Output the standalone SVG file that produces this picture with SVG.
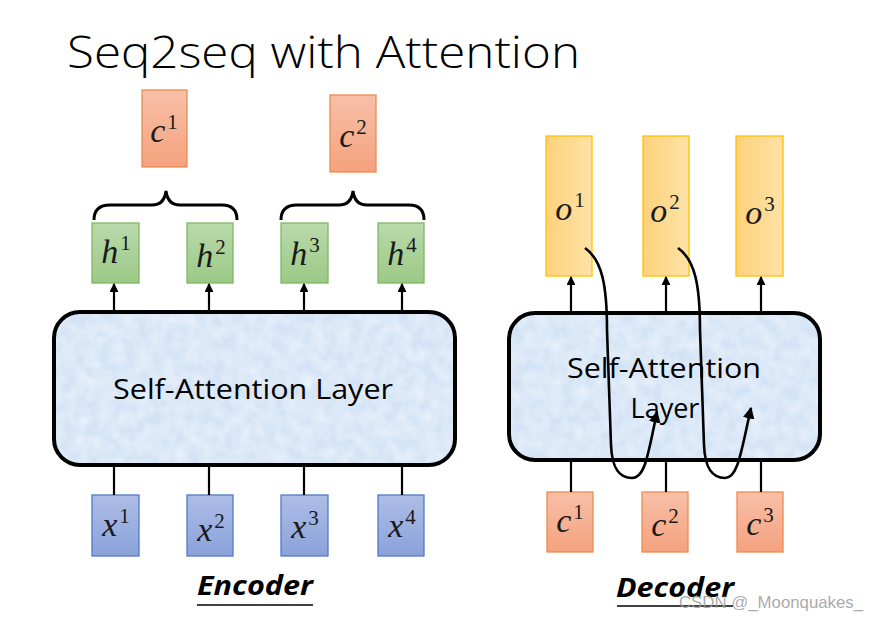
<svg xmlns="http://www.w3.org/2000/svg" width="880" height="620" viewBox="0 0 880 620">
<defs>
<linearGradient id="gOr" x1="0" y1="0" x2="0" y2="1"><stop offset="0" stop-color="#f8c0a8"/><stop offset="1" stop-color="#f4a27e"/></linearGradient>
<linearGradient id="gGr" x1="0" y1="0" x2="0" y2="1"><stop offset="0" stop-color="#b9daac"/><stop offset="1" stop-color="#9cc985"/></linearGradient>
<linearGradient id="gBl" x1="0" y1="0" x2="0" y2="1"><stop offset="0" stop-color="#aebde6"/><stop offset="1" stop-color="#8aa2da"/></linearGradient>
<linearGradient id="gYe" x1="0" y1="0" x2="1" y2="0"><stop offset="0" stop-color="#fdd27c"/><stop offset="1" stop-color="#fee2a6"/></linearGradient>
<filter id="tex" x="0" y="0" width="1" height="1">
<feTurbulence type="fractalNoise" baseFrequency="0.08" numOctaves="2" seed="3" result="n"/>
<feColorMatrix in="n" type="matrix" values="0 0 0 0 0.86  0 0 0 0 0.91  0 0 0 0 0.98  0 0 0 -1.2 0.9" result="c"/>
<feComposite in="c" in2="SourceGraphic" operator="in" result="t"/>
<feMerge><feMergeNode in="SourceGraphic"/><feMergeNode in="t"/></feMerge>
</filter>
<marker id="ah" viewBox="0 0 10 10" refX="9" refY="5" markerWidth="4" markerHeight="4" orient="auto"><path d="M0,0 L10,5 L0,10 z" fill="#000"/></marker>
<marker id="ah2" viewBox="0 0 10 10" refX="9" refY="5" markerWidth="4.5" markerHeight="4.5" orient="auto"><path d="M0,0 L10,5 L0,10 z" fill="#000"/></marker>
<style>
.or{fill:url(#gOr);stroke:#ed8a4e;stroke-width:1.3}
.gr{fill:url(#gGr);stroke:#7fb765;stroke-width:1.3}
.bl{fill:url(#gBl);stroke:#4f7acb;stroke-width:1.3}
.ye{fill:url(#gYe);stroke:#ffc000;stroke-width:1.3}
.bigf{fill:#d3e3f5;stroke:none}
.bigs{fill:none;stroke:#000;stroke-width:4}
.m{font-family:"Liberation Serif","DejaVu Serif",serif;font-size:34px;fill:#1a1a1a;text-anchor:middle}
.m .v{font-style:italic}
.m .s{font-size:21px}
.lay{font-family:"Open Sans","Noto Sans",sans-serif;font-size:27px;fill:#000;text-anchor:middle}
.lbl{font-family:"Open Sans","Liberation Sans",sans-serif;font-size:26px;font-weight:bold;font-style:italic;fill:#000;text-anchor:middle}
.ln{stroke:#000;stroke-width:2.2;fill:none}
.ar{stroke:#000;stroke-width:2.2;fill:none;marker-end:url(#ah)}
.cv{stroke:#000;stroke-width:2.6;fill:none;marker-end:url(#ah2)}
.br{stroke:#000;stroke-width:3;fill:none}
</style>
</defs>
<rect width="880" height="620" fill="#fff"/>
<text x="67" y="68" font-family="'Open Sans','Noto Sans',sans-serif" font-weight="300" font-size="44" textLength="513" lengthAdjust="spacingAndGlyphs" fill="#000">Seq2seq with Attention</text>

<g id="encoder">
<rect class="bigf" x="54" y="312" width="401" height="153" rx="26" filter="url(#tex)"/>
<rect class="bigs" x="54" y="312" width="401" height="153" rx="26"/>
<text class="lay" x="253" y="399" textLength="280" lengthAdjust="spacingAndGlyphs">Self-Attention Layer</text>
</g>
<g id="decoder">
<rect class="bigf" x="509" y="313" width="311" height="147" rx="26" filter="url(#tex)"/>
<rect class="bigs" x="509" y="313" width="311" height="147" rx="26"/>
<text class="lay" x="664" y="378" textLength="194" lengthAdjust="spacingAndGlyphs">Self-Attention</text>
<text class="lay" x="665" y="418">Layer</text>
</g>

<g id="c1top"><rect class="or" x="142" y="90" width="45" height="77"/><text class="m" x="164" y="142"><tspan class="v">c</tspan><tspan class="s" dx="2" dy="-13">1</tspan></text></g>
<g id="c2top"><rect class="or" x="330" y="95" width="46" height="77"/><text class="m" x="353" y="147"><tspan class="v">c</tspan><tspan class="s" dx="2" dy="-13">2</tspan></text></g>

<g id="braces">
<path class="br" d="M94,220 C94,211 98,205 110,205 L152,205 C161,205 165,199 166,191 C167,199 171,205 180,205 L222,205 C233,205 237,211 237,220"/>
<path class="br" d="M281,220 C281,211 285,205 297,205 L339,205 C348,205 352,199 353,191 C354,199 358,205 367,205 L409,205 C420,205 424,211 424,220"/>
</g>

<g id="h1"><rect class="gr" x="92" y="223" width="47" height="60"/><text class="m" x="116" y="263"><tspan class="v">h</tspan><tspan class="s" dx="2" dy="-13">1</tspan></text></g>
<g id="h2"><rect class="gr" x="187" y="223" width="46" height="60"/><text class="m" x="211" y="267"><tspan class="v">h</tspan><tspan class="s" dx="2" dy="-13">2</tspan></text></g>
<g id="h3"><rect class="gr" x="281" y="223" width="47" height="60"/><text class="m" x="305" y="265"><tspan class="v">h</tspan><tspan class="s" dx="2" dy="-13">3</tspan></text></g>
<g id="h4"><rect class="gr" x="378" y="223" width="46" height="60"/><text class="m" x="402" y="265"><tspan class="v">h</tspan><tspan class="s" dx="2" dy="-13">4</tspan></text></g>

<g id="x1"><rect class="bl" x="92" y="495" width="47" height="61"/><text class="m" x="116" y="536"><tspan class="v">x</tspan><tspan class="s" dx="2" dy="-13">1</tspan></text></g>
<g id="x2"><rect class="bl" x="187" y="495" width="46" height="61"/><text class="m" x="211" y="541"><tspan class="v">x</tspan><tspan class="s" dx="2" dy="-13">2</tspan></text></g>
<g id="x3"><rect class="bl" x="281" y="495" width="47" height="61"/><text class="m" x="305" y="538"><tspan class="v">x</tspan><tspan class="s" dx="2" dy="-13">3</tspan></text></g>
<g id="x4"><rect class="bl" x="378" y="495" width="46" height="61"/><text class="m" x="402" y="537"><tspan class="v">x</tspan><tspan class="s" dx="2" dy="-13">4</tspan></text></g>

<g id="o1"><rect class="ye" x="546" y="136" width="46" height="140"/><text class="m" x="570" y="220"><tspan class="v">o</tspan><tspan class="s" dx="2" dy="-13">1</tspan></text></g>
<g id="o2"><rect class="ye" x="643" y="136" width="46" height="140"/><text class="m" x="665" y="222"><tspan class="v">o</tspan><tspan class="s" dx="2" dy="-13">2</tspan></text></g>
<g id="o3"><rect class="ye" x="736" y="136" width="47" height="140"/><text class="m" x="760" y="224"><tspan class="v">o</tspan><tspan class="s" dx="2" dy="-13">3</tspan></text></g>

<g id="c1"><rect class="or" x="547" y="492" width="46" height="60"/><text class="m" x="570" y="532"><tspan class="v">c</tspan><tspan class="s" dx="2" dy="-13">1</tspan></text></g>
<g id="c2"><rect class="or" x="642" y="492" width="46" height="60"/><text class="m" x="665" y="536"><tspan class="v">c</tspan><tspan class="s" dx="2" dy="-13">2</tspan></text></g>
<g id="c3"><rect class="or" x="737" y="492" width="46" height="60"/><text class="m" x="760" y="535"><tspan class="v">c</tspan><tspan class="s" dx="2" dy="-13">3</tspan></text></g>

<g id="connectors">
<line class="ar" x1="114" y1="312" x2="114" y2="284"/>
<line class="ar" x1="209" y1="312" x2="209" y2="284"/>
<line class="ar" x1="304" y1="312" x2="304" y2="284"/>
<line class="ar" x1="402" y1="312" x2="402" y2="284"/>
<line class="ln" x1="114" y1="465" x2="114" y2="495"/>
<line class="ln" x1="209" y1="465" x2="209" y2="495"/>
<line class="ln" x1="304" y1="465" x2="304" y2="495"/>
<line class="ln" x1="402" y1="465" x2="402" y2="495"/>
<line class="ar" x1="571" y1="313" x2="571" y2="277"/>
<line class="ar" x1="666" y1="313" x2="666" y2="277"/>
<line class="ar" x1="761" y1="313" x2="761" y2="277"/>
<line class="ln" x1="571" y1="460" x2="571" y2="492"/>
<line class="ln" x1="666" y1="460" x2="666" y2="492"/>
<line class="ln" x1="761" y1="460" x2="761" y2="492"/>
<path class="cv" d="M585,248 C602,260 607,285 607,330 L611,445 C612,470 620,478 632,478 C645,478 648,455 657,412"/>
<path class="cv" d="M678,248 C695,260 700,285 700,330 L704,445 C705,470 713,478 725,478 C738,478 741,452 751,408"/>
</g>

<g id="labels">
<text class="lbl" x="255" y="595" textLength="116" lengthAdjust="spacingAndGlyphs">Encoder</text>
<line x1="197" y1="605" x2="313" y2="605" stroke="#000" stroke-width="1.6"/>
<text class="lbl" x="675" y="597" textLength="118" lengthAdjust="spacingAndGlyphs">Decoder</text>
<line x1="617" y1="606" x2="733" y2="606" stroke="#000" stroke-width="1.6"/>
<text x="679" y="608" font-family="'Liberation Sans',Arial,sans-serif" font-size="17" fill="#9a9a9a" fill-opacity="0.85" textLength="184" lengthAdjust="spacingAndGlyphs">CSDN @_Moonquakes_</text>
</g>
</svg>
